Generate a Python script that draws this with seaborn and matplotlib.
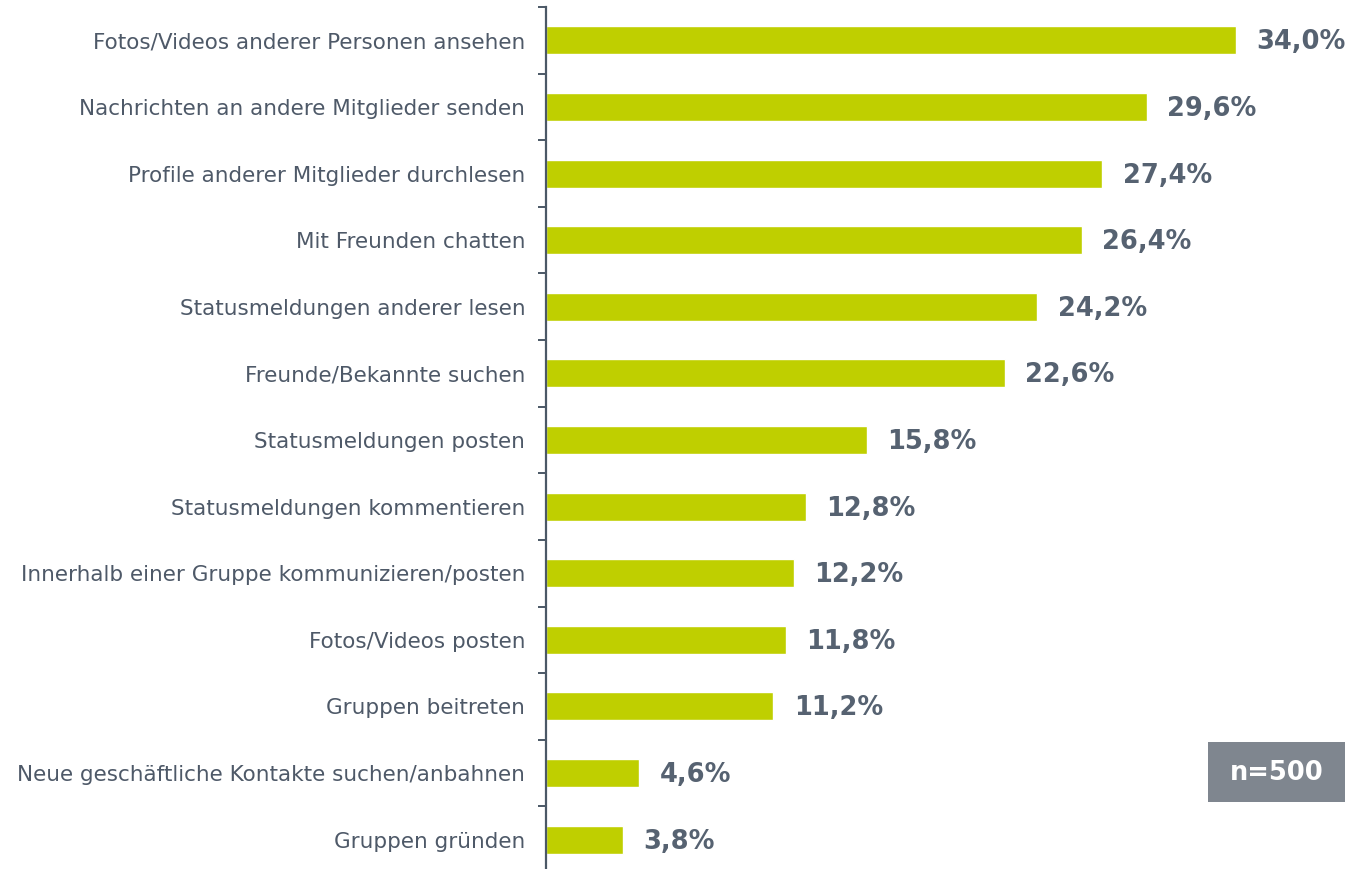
import matplotlib
matplotlib.use("Agg")
import matplotlib.pyplot as plt
import seaborn as sns
import pandas as pd
from matplotlib.patches import Rectangle

categories = [
    "Fotos/Videos anderer Personen ansehen",
    "Nachrichten an andere Mitglieder senden",
    "Profile anderer Mitglieder durchlesen",
    "Mit Freunden chatten",
    "Statusmeldungen anderer lesen",
    "Freunde/Bekannte suchen",
    "Statusmeldungen posten",
    "Statusmeldungen kommentieren",
    "Innerhalb einer Gruppe kommunizieren/posten",
    "Fotos/Videos posten",
    "Gruppen beitreten",
    "Neue geschäftliche Kontakte suchen/anbahnen",
    "Gruppen gründen",
]
values = [34.0, 29.6, 27.4, 26.4, 24.2, 22.6, 15.8, 12.8, 12.2, 11.8, 11.2, 4.6, 3.8]
value_labels = ["34,0%", "29,6%", "27,4%", "26,4%", "24,2%", "22,6%", "15,8%",
                "12,8%", "12,2%", "11,8%", "11,2%", "4,6%", "3,8%"]
sample_note = "n=500"

sns.set_style("white")
plt.rcParams['font.family'] = ['DejaVu Sans']

BAR = "#BFCF00"
AXIS = "#4B5866"
LABEL = "#4E5968"
VAL = "#566271"

df = pd.DataFrame({"cat": categories, "val": values})

fig = plt.figure(figsize=(13.55, 8.69), dpi=100)
W, H = 1355, 869
ax = fig.add_axes([546 / W, 1 - 873 / H, (W - 546) / W, (873 - 7) / H])

sns.barplot(data=df, y="cat", x="val", orient="h", color=BAR, width=0.42,
            saturation=1, ax=ax, order=categories)

ax.set_xlim(0, 809 / 20.3)
ax.set_ylim(len(categories) - 0.5, -0.5)
ax.set_xlabel("")
ax.set_ylabel("")
ax.set_xticks([])

for s in ["top", "right", "bottom"]:
    ax.spines[s].set_visible(False)
ax.spines["left"].set_color(AXIS)
ax.spines["left"].set_linewidth(1.6)

ax.set_yticks(range(len(categories)))
ax.set_yticklabels(categories, fontsize=15.5, color=LABEL)
ax.tick_params(axis="y", which="major", left=False, length=0, pad=15)
ax.set_yticks([i - 0.5 for i in range(len(categories) + 1)], minor=True)
ax.tick_params(axis="y", which="minor", left=True, length=5.5, width=1.4, color=AXIS)

for i, (v, lab) in enumerate(zip(values, value_labels)):
    ax.text(v + 1.0, i + 0.03, lab, va="center", ha="left", fontsize=18.5,
            fontweight="bold", color=VAL)

fig.patches.append(Rectangle((1208 / W, 1 - 802 / H), (1345 - 1208) / W, (802 - 742) / H,
                             transform=fig.transFigure, facecolor="#7F868F",
                             edgecolor="none", zorder=5))
fig.text((1208 + 1345) / 2 / W, 1 - 773 / H, sample_note, ha="center", va="center",
         fontsize=18.5, fontweight="bold", color="white", zorder=6)

fig.savefig("out.png", dpi=100)
